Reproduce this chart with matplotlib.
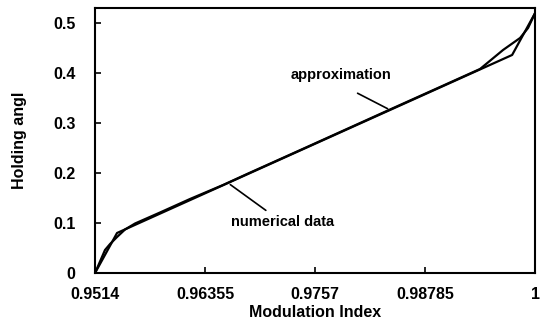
import matplotlib
matplotlib.use("Agg")
from matplotlib import pyplot as plt

# numerical data (smooth curve)
num_x = [0.95140, 0.95195, 0.95250, 0.95306, 0.95383, 0.95471, 0.95582, 0.95858,
         0.96189, 0.96554, 0.96819, 0.97482, 0.98398, 0.98951, 0.99392, 0.99646,
         0.99834, 0.99922, 1.00000]
num_y = [0.0, 0.023, 0.046, 0.058, 0.072, 0.087, 0.099, 0.121,
         0.148, 0.176, 0.198, 0.252, 0.327, 0.372, 0.408, 0.446,
         0.470, 0.490, 0.520]

# piecewise linear approximation
apx_x = [0.9514, 0.95383, 0.99746, 1.0]
apx_y = [0.0, 0.080, 0.436, 0.520]

xticks = [0.9514, 0.96355, 0.9757, 0.98785, 1.0]
xtick_labels = ["0.9514", "0.96355", "0.9757", "0.98785", "1"]
yticks = [0, 0.1, 0.2, 0.3, 0.4, 0.5]
ytick_labels = ["0", "0.1", "0.2", "0.3", "0.4", "0.5"]

plt.rcParams['font.family'] = ['Liberation Sans', 'DejaVu Sans']

fig = plt.figure(figsize=(5.4, 3.26), dpi=100)
ax = fig.add_axes([0.176, 0.1626, 0.815, 0.813])

ax.plot(num_x, num_y, color="black", lw=1.6)
ax.plot(apx_x, apx_y, color="black", lw=1.6)

ax.set_xlim(0.9514, 1.0)
ax.set_ylim(0, 0.53)
ax.set_xticks(xticks)
ax.set_xticklabels(xtick_labels, fontsize=11.5, fontweight="bold")
ax.set_yticks(yticks)
ax.set_yticklabels(ytick_labels, fontsize=11.5, fontweight="bold")
ax.tick_params(direction="in", length=4, width=1.2)
ax.tick_params(axis="x", pad=10)
ax.tick_params(axis="y", pad=14)
for s in ax.spines.values():
    s.set_linewidth(1.5)

ax.set_xlabel("Modulation Index", fontsize=11.5, fontweight="bold", labelpad=2)
ax.set_ylabel("Holding angl", fontsize=11.5, fontweight="bold", labelpad=19)

# labels with leader lines
ax.text(0.97857, 0.396, "approximation", fontsize=10.5, fontweight="bold",
        ha="center", va="center")
ax.annotate("", xy=(0.98398, 0.326), xytext=(0.98012, 0.362),
            arrowprops=dict(arrowstyle="-", color="black", lw=1.2))
ax.text(0.97211, 0.102, "numerical data", fontsize=10.5, fontweight="bold",
        ha="center", va="center")
ax.annotate("", xy=(0.96609, 0.180), xytext=(0.97051, 0.122),
            arrowprops=dict(arrowstyle="-", color="black", lw=1.2))

fig.savefig("out.png", dpi=100)
